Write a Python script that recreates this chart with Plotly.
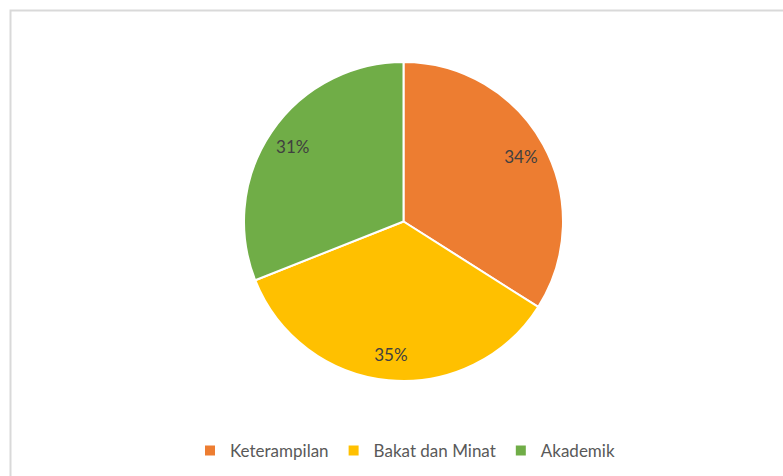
import plotly.graph_objects as go

categories = ["Keterampilan", "Bakat dan Minat", "Akademik"]
values = [34, 35, 31]
colors = ["#ED7D31", "#FFC000", "#70AD47"]

W, H = 783, 476
dom_x = [244 / W, 563 / W]
dom_y = [1 - 381 / H, 1 - 62 / H]

fig = go.Figure()
fig.add_trace(go.Pie(
    labels=categories, values=values, sort=False, direction="clockwise", rotation=0,
    marker=dict(colors=colors, line=dict(color="white", width=2)),
    textinfo="none", hoverinfo="label+percent",
    domain=dict(x=dom_x, y=dom_y),
))
fig.add_trace(go.Pie(
    labels=categories, values=values, sort=False, direction="clockwise", rotation=0,
    hole=0.68, showlegend=False,
    marker=dict(colors=["rgba(0,0,0,0)"] * 3, line=dict(width=0)),
    textinfo="percent", textposition="inside", insidetextorientation="horizontal",
    texttemplate="%{percent:.0%}",
    textfont=dict(family="Lato, Open Sans, sans-serif", size=17, color="#404040"),
    hoverinfo="skip",
    domain=dict(x=dom_x, y=dom_y),
))

fig.update_layout(
    width=W, height=H,
    margin=dict(l=0, r=0, t=0, b=0),
    paper_bgcolor="white", plot_bgcolor="white",
    legend=dict(orientation="h", x=405 / W, xanchor="center",
                y=1 - 451 / H, yanchor="middle",
                font=dict(family="Lato, Open Sans, sans-serif", size=17, color="#595959"),
                itemwidth=30, traceorder="normal"),
    shapes=[dict(type="rect", xref="paper", yref="paper",
                 x0=10.5 / W, x1=1.2, y0=-0.2, y1=1 - 10.5 / H,
                 line=dict(color="#D9D9D9", width=2), fillcolor="rgba(0,0,0,0)")],
)
fig.write_html("out.html", config={"displayModeBar": False},
               post_script="document.body.style.margin='0';document.body.style.overflow='hidden';")
